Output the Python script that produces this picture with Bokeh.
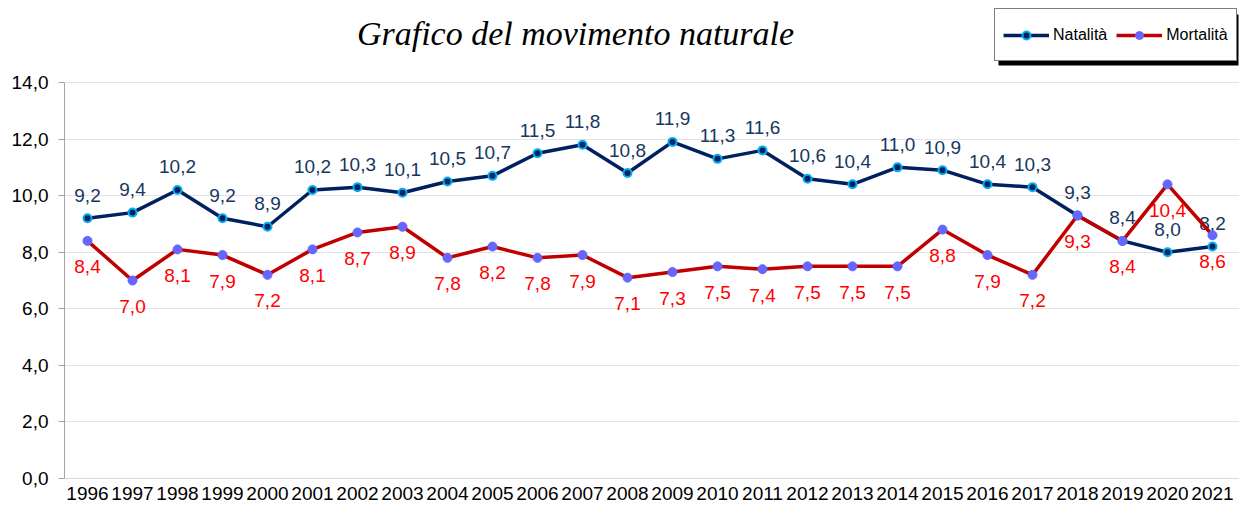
from bokeh.plotting import figure
from bokeh.models import Range1d, FixedTicker, Label, Legend, LegendItem, BoxAnnotation, ColumnDataSource
from bokeh.core.properties import value
from bokeh.embed import file_html
from bokeh.resources import INLINE

# ---- data ----
years = list(range(1996, 2022))
natalita = [9.2, 9.4, 10.2, 9.2, 8.9, 10.2, 10.3, 10.1, 10.5, 10.7, 11.5, 11.8, 10.8,
            11.9, 11.3, 11.6, 10.6, 10.4, 11.0, 10.9, 10.4, 10.3, 9.3, 8.4, 8.0, 8.2]
mortalita = [8.4, 7.0, 8.1, 7.9, 7.2, 8.1, 8.7, 8.9, 7.8, 8.2, 7.8, 7.9, 7.1,
             7.3, 7.5, 7.4, 7.5, 7.5, 7.5, 8.8, 7.9, 7.2, 9.3, 8.4, 10.4, 8.6]
y_ticks = [0, 2, 4, 6, 8, 10, 12, 14]
y_tick_labels = ["0,0", "2,0", "4,0", "6,0", "8,0", "10,0", "12,0", "14,0"]
title_text = "Grafico del movimento naturale"
series_names = ["Natalità", "Mortalità"]


def fmt(v):
    return f"{v:.1f}".replace(".", ",")


src = ColumnDataSource(dict(
    x=years, nat=natalita, mor=mortalita,
    nat_lbl=[fmt(v) for v in natalita], mor_lbl=[fmt(v) for v in mortalita],
))

# ---- layout ----
W, H = 1239, 510
FL = 64                  # frame left border
frame_h = 478            # frame bottom (y = 0) in pixels from top
FB = H - frame_h
px_per_unit = 396 / 14.0
x_step = 45.0
x0 = 1996 - 23 / x_step
x1 = 2021 + (W - FL - 23 - 25 * x_step) / x_step

p = figure(width=W, height=H, output_backend="svg", toolbar_location=None,
           x_range=Range1d(x0, x1), y_range=Range1d(0, frame_h / px_per_unit),
           min_border_left=FL, min_border_right=0, min_border_top=0,
           min_border_bottom=FB, outline_line_color=None,
           background_fill_color="white", border_fill_color="white")

# axes
xa = p.xaxis[0]
xa.ticker = FixedTicker(ticks=years)
xa.major_label_overrides = {y: str(y) for y in years}
xa.major_tick_out = 0
xa.major_tick_in = 0
xa.minor_tick_out = 0
xa.minor_tick_in = 0
xa.axis_line_color = "#D9D9D9"
xa.axis_line_width = 1
xa.major_label_standoff = 8
xa.major_label_text_font = "Liberation Sans"
xa.major_label_text_font_size = "19px"
xa.major_label_text_color = "#000000"

ya = p.yaxis[0]
ya.ticker = FixedTicker(ticks=y_ticks)
ya.major_label_overrides = dict(zip(y_ticks, y_tick_labels))
ya.bounds = (0, 14)
ya.major_tick_out = 6
ya.major_tick_in = 0
ya.minor_tick_out = 0
ya.minor_tick_in = 0
ya.axis_line_color = "#A6A6A6"
ya.major_tick_line_color = "#A6A6A6"
ya.major_label_standoff = 10
ya.major_label_text_font = "Liberation Sans"
ya.major_label_text_font_size = "19px"
ya.major_label_text_color = "#000000"

p.xgrid.visible = False
p.ygrid.grid_line_color = "#E3E3E3"
p.ygrid.bounds = (0, 14)

# series
nat_line = p.line("x", "nat", source=src, line_color="#002060", line_width=3.5)
nat_pts = p.scatter("x", "nat", source=src, size=8, fill_color="#002060",
                    line_color="#00B0F0", line_width=2)
p.text("x", "nat", text="nat_lbl", source=src, text_align="center",
       text_baseline="middle", y_offset=-23, text_color="#17375E",
       text_font=value("Liberation Sans"), text_font_size=value("19px"))

mor_line = p.line("x", "mor", source=src, line_color="#C00000", line_width=3.5)
mor_pts = p.scatter("x", "mor", source=src, size=9, fill_color="#6666FF",
                    line_color="#6666FF", line_width=1)
p.text("x", "mor", text="mor_lbl", source=src, text_align="center",
       text_baseline="middle", y_offset=26, text_color="#FF0000",
       text_font=value("Liberation Sans"), text_font_size=value("19px"))

# title
p.add_layout(Label(x=575 - FL, y=frame_h - 33, x_units="screen", y_units="screen",
                   text=title_text, text_font="Liberation Serif",
                   text_font_style="italic", text_font_size="34px",
                   text_align="center", text_baseline="middle", text_color="#000000"))


# legend shadow (data coords from pixel positions)
def dx(px):
    return x0 + (px - FL) / x_step


def dy(py):
    return (frame_h - py) / px_per_unit


L_left, L_top, L_right, L_bottom = 994, 10, 1235, 61
p.add_layout(BoxAnnotation(left=dx(L_left + 4), right=dx(L_right + 3),
                           top=dy(L_top + 4), bottom=dy(L_bottom + 4),
                           fill_color="black", fill_alpha=1, line_color=None))

legend = Legend(items=[LegendItem(label=series_names[0], renderers=[nat_line, nat_pts]),
                       LegendItem(label=series_names[1], renderers=[mor_line, mor_pts])],
                orientation="horizontal", location=(L_left - FL, frame_h - L_bottom),
                border_line_color="black", border_line_width=1,
                background_fill_color="white", background_fill_alpha=1,
                padding=8, spacing=9, glyph_width=46, glyph_height=20,
                label_standoff=4, label_height=35, margin=0,
                label_text_font="Liberation Sans", label_text_font_size="16px",
                label_text_color="#000000")
p.add_layout(legend)

open("out.html", "w").write(file_html(p, INLINE))
